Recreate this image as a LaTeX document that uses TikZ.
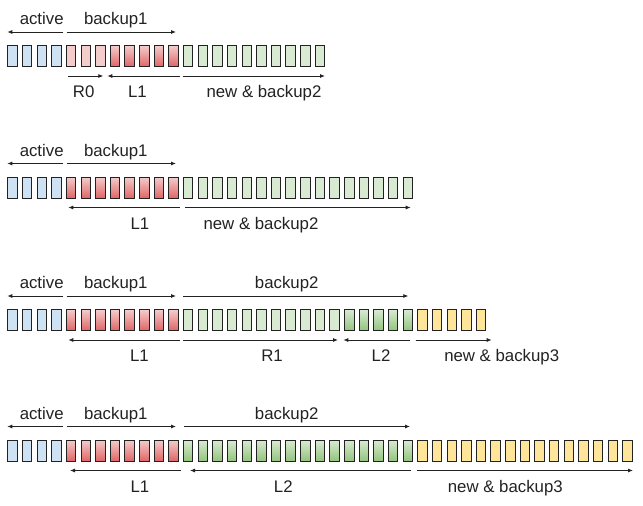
\documentclass[tikz,border=0pt]{standalone}
\usepackage{fontspec}
\setmainfont{Liberation Sans}
\usetikzlibrary{arrows.meta,calc}
\definecolor{ActBlue}{HTML}{CFE2F3}
\definecolor{BakPink}{HTML}{F4CCCC}
\definecolor{BakRed}{HTML}{E06666}
\definecolor{NewGreen}{HTML}{D9EAD3}
\definecolor{OldGreen}{HTML}{93C47D}
\definecolor{NewYellow}{HTML}{FFE599}
\definecolor{Ink}{HTML}{222222}
\tikzset{
    cell/.style = {draw=Ink, rectangle, line width=1pt, inner sep=0pt,
        minimum width=9.5pt,
        minimum height=21pt},
    act/.style = {cell, fill=ActBlue},
    redo/.style = {cell, fill=BakPink},
    undo/.style = {cell, top color=BakPink, bottom color=BakRed},
    fresh/.style = {cell, fill=NewGreen},
    merged/.style = {cell, top color=NewGreen, bottom color=OldGreen},
    spare/.style = {cell, fill=NewYellow},
    span/.style = {draw=Ink, line width=0.8pt, -{Latex[length=5pt,width=4pt]}},
    lbl/.style = {text=Ink, anchor=base, inner sep=0pt,
        font=\fontsize{16.8}{20}\selectfont}
}
\def\xo{12.55}
\def\pitch{14.64}

\begin{document}
\begin{tikzpicture}[x=1pt,y=-1pt]
            \useasboundingbox (0,0) rectangle (643,506);
            % row 1
            \foreach \i in {0,...,3} \node[act] (r1c\i) at ({\xo+\pitch*\i},56) {};
            \foreach \i in {4,...,6} \node[redo] (r1c\i) at ({\xo+\pitch*\i},56) {};
            \foreach \i in {7,...,11} \node[undo] (r1c\i) at ({\xo+\pitch*\i},56) {};
            \foreach \i in {12,...,21} \node[fresh] (r1c\i) at ({\xo+\pitch*\i},56) {};
            \foreach \s/\e/\lx/\ay/\ly/\txt [count=\k] in {
                63.3/7.3/41.7/-24/-31.5/active, 66.7/176/115.8/-24/-31.5/backup1,
                68.3/103.3/83.7/20/41.5/R0, 180/107.3/137.5/20/41.5/L1,
                182.7/325/264/20/41.5/new \& backup2} {
                \coordinate (r1s\k) at (\s,56+\ay);
                \coordinate (r1e\k) at (\e,56+\ay);
                \draw[span] (r1s\k) -- (r1e\k);
                \node[lbl] (r1l\k) at (\lx,56+\ly) {\txt};
            }
            % row 2
            \foreach \i in {0,...,3} \node[act] (r2c\i) at ({\xo+\pitch*\i},187.5) {};
            \foreach \i in {4,...,11} \node[undo] (r2c\i) at ({\xo+\pitch*\i},187.5) {};
            \foreach \i in {12,...,27} \node[fresh] (r2c\i) at ({\xo+\pitch*\i},187.5) {};
            \foreach \s/\e/\lx/\ay/\ly/\txt [count=\k] in {
                63.3/7.3/41.7/-24/-31.5/active, 66.7/176/115.8/-24/-31.5/backup1,
                180/68.3/140/20/41.5/L1, 185/410.7/261/20/41.5/new \& backup2} {
                \coordinate (r2s\k) at (\s,187.5+\ay);
                \coordinate (r2e\k) at (\e,187.5+\ay);
                \draw[span] (r2s\k) -- (r2e\k);
                \node[lbl] (r2l\k) at (\lx,187.5+\ly) {\txt};
            }
            % row 3
            \foreach \i in {0,...,3} \node[act] (r3c\i) at ({\xo+\pitch*\i},320) {};
            \foreach \i in {4,...,11} \node[undo] (r3c\i) at ({\xo+\pitch*\i},320) {};
            \foreach \i in {12,...,22} \node[fresh] (r3c\i) at ({\xo+\pitch*\i},320) {};
            \foreach \i in {23,...,27} \node[merged] (r3c\i) at ({\xo+\pitch*\i},320) {};
            \foreach \i in {28,...,32} \node[spare] (r3c\i) at ({\xo+\pitch*\i},320) {};
            \foreach \s/\e/\lx/\ay/\ly/\txt [count=\k] in {
                63.3/7.3/41.7/-24/-31.5/active, 66.7/176/115.8/-24/-31.5/backup1,
                183.3/408.3/286.7/-24/-31.5/backup2, 180/68.3/139.5/20/41.5/L1,
                183.3/338/272/20/41.5/R1, 410/343.3/381/20/41.5/L2,
                415.5/491.7/501.7/20/41.5/new \& backup3} {
                \coordinate (r3s\k) at (\s,320+\ay);
                \coordinate (r3e\k) at (\e,320+\ay);
                \draw[span] (r3s\k) -- (r3e\k);
                \node[lbl] (r3l\k) at (\lx,320+\ly) {\txt};
            }
            % row 4
            \foreach \i in {0,...,3} \node[act] (r4c\i) at ({\xo+\pitch*\i},450.5) {};
            \foreach \i in {4,...,11} \node[undo] (r4c\i) at ({\xo+\pitch*\i},450.5) {};
            \foreach \i in {12,...,27} \node[merged] (r4c\i) at ({\xo+\pitch*\i},450.5) {};
            \foreach \i in {28,...,42} \node[spare] (r4c\i) at ({\xo+\pitch*\i},450.5) {};
            \foreach \s/\e/\lx/\ay/\ly/\txt [count=\k] in {
                63.3/7.3/41.7/-24/-31.5/active, 66.7/176/115.8/-24/-31.5/backup1,
                184.3/410/286.7/-24/-31.5/backup2, 181/70/140/20/41.5/L1,
                411/190/283.3/20/41.5/L2, 416.7/633/505.3/20/41.5/new \& backup3} {
                \coordinate (r4s\k) at (\s,450.5+\ay);
                \coordinate (r4e\k) at (\e,450.5+\ay);
                \draw[span] (r4s\k) -- (r4e\k);
                \node[lbl] (r4l\k) at (\lx,450.5+\ly) {\txt};
            }
\end{tikzpicture}
\end{document}
